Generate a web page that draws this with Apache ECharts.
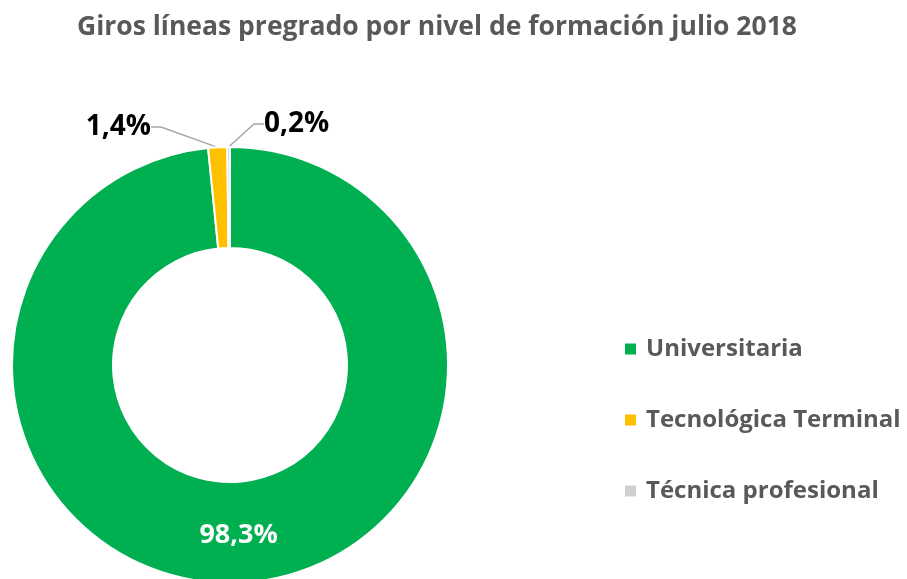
<!DOCTYPE html>
<html>
<head>
<meta charset="utf-8">
<script src="https://cdn.jsdelivr.net/npm/echarts@6/dist/echarts.min.js"></script>
<style>
  html, body { margin: 0; padding: 0; background: #fff; }
  #chart { width: 907px; height: 579px; }
</style>
</head>
<body>
<div id="chart"></div>
<script>
// datos del gráfico
const categories = ['Universitaria', 'Tecnológica Terminal', 'Técnica profesional'];
const values = [98.3, 1.4, 0.2];
const colors = ['#00B050', '#FFC000', '#D0CECE'];

const fmt = v => v.toFixed(1).replace('.', ',') + '%';

const myChart = echarts.init(document.getElementById('chart'));

const pieData = categories.map((name, i) => ({
  name: name,
  value: values[i],
  itemStyle: { color: colors[i] },
  label: i === 0
    ? { position: 'inside', color: '#ffffff', fontSize: 27 }
    : { position: 'outside', color: '#000000', fontSize: 28 }
}));

// posiciones de las etiquetas pequeñas (como en excel)
const labelPos = {
  1: { x: 151, y: 127, align: 'right' },
  2: { x: 264, y: 124, align: 'left' }
};

myChart.setOption({
  animation: false,
  title: {
    text: 'Giros líneas pregrado por nivel de formación julio 2018',
    left: 72,
    top: 9,
    textStyle: {
      color: '#595959',
      fontSize: 26.5,
      fontWeight: 'bold',
      fontFamily: 'Open Sans'
    }
  },
  legend: {
    orient: 'vertical',
    left: 618,
    top: 332,
    itemGap: 47,
    itemWidth: 13,
    itemHeight: 13,
    icon: 'rect',
    data: categories,
    textStyle: {
      color: '#595959',
      fontSize: 24,
      fontWeight: 'bold',
      fontFamily: 'Open Sans',
      padding: [0, 0, 0, 4]
    }
  },
  series: [
    {
      type: 'pie',
      center: [230, 365],
      radius: [117, 218],
      startAngle: 90,
      clockwise: true,
      itemStyle: {
        borderColor: '#ffffff',
        borderWidth: 2
      },
      label: {
        fontWeight: 'bold',
        fontFamily: 'Open Sans',
        formatter: p => fmt(p.value)
      },
      labelLine: {
        show: true,
        length: 10,
        length2: 10,
        lineStyle: { color: '#A6A6A6', width: 1.5 }
      },
      labelLayout: params => {
        const p = labelPos[params.dataIndex];
        if (!p) return {};
        return { x: p.x, y: p.y, align: p.align, verticalAlign: 'middle' };
      },
      data: pieData
    }
  ]
});
</script>
</body>
</html>
